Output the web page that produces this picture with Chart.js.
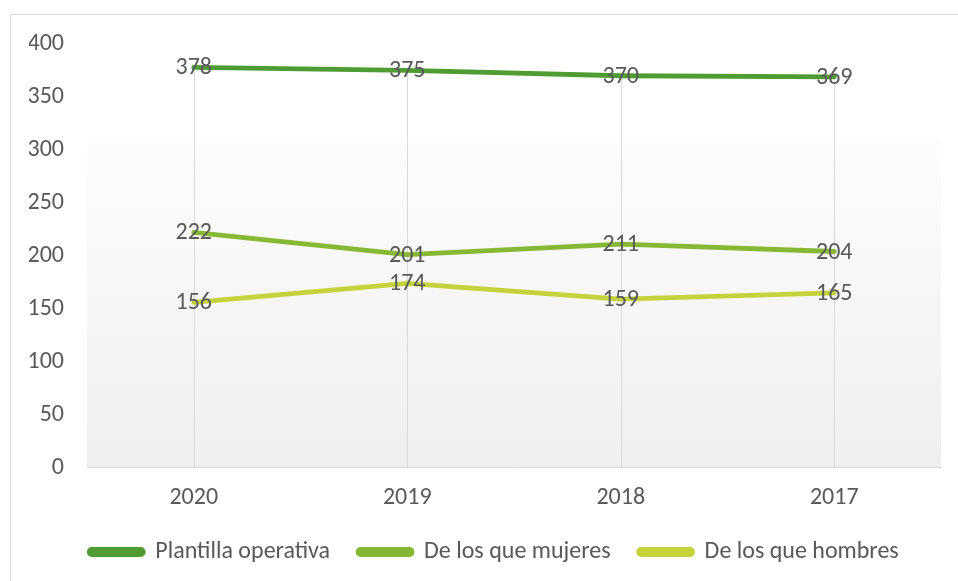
<!DOCTYPE html>
<html>
<head>
<meta charset="utf-8">
<script src="https://cdn.jsdelivr.net/npm/chart.js@4/dist/chart.umd.min.js"></script>
<style>
  html, body { margin: 0; padding: 0; background: #ffffff; }
  #wrap { width: 958px; height: 581px; position: relative; }
</style>
</head>
<body>
<div id="wrap"><canvas id="c" width="958" height="581"></canvas></div>
<script>
const categories = ['2020', '2019', '2018', '2017'];
const plantillaOperativa = [378, 375, 370, 369];
const mujeres = [222, 201, 211, 204];
const hombres = [156, 174, 159, 165];
const seriesNames = ['Plantilla operativa', 'De los que mujeres', 'De los que hombres'];
const yTicks = [0, 50, 100, 150, 200, 250, 300, 350, 400];

const colors = ['#4f9c33', '#86b833', '#c4d23b'];
const textColor = '#595959';
const fontFamily = "Carlito, 'Open Sans', sans-serif";
const fontSize = 24;

const frame = {
  id: 'frame',
  afterLayout(chart) {
    const lg = chart.legend;
    if (lg) {
      const shift = 494 - (lg.left + lg.right) / 2;
      lg.left += shift;
      lg.right += shift;
    }
  },
  beforeDraw(chart) {
    const ctx = chart.ctx;
    const a = chart.chartArea;
    ctx.save();
    ctx.fillStyle = '#ffffff';
    ctx.fillRect(0, 0, chart.width, chart.height);
    ctx.strokeStyle = '#d9d9d9';
    ctx.lineWidth = 1;
    ctx.strokeRect(10.5, 14.5, chart.width + 20, chart.height + 20);
    const gTop = a.top + (a.bottom - a.top) * 0.229;
    const g = ctx.createLinearGradient(0, gTop, 0, a.bottom);
    g.addColorStop(0, '#fdfdfd');
    g.addColorStop(1, '#efefef');
    ctx.fillStyle = g;
    ctx.fillRect(a.left, gTop, a.right - a.left, a.bottom - gTop);
    ctx.restore();
  },
  beforeDatasetsDraw(chart) {
    const ctx = chart.ctx;
    const a = chart.chartArea;
    const metas = chart.data.datasets.map((d, i) => chart.getDatasetMeta(i));
    ctx.save();
    ctx.strokeStyle = '#d9d9d9';
    ctx.lineWidth = 1;
    categories.forEach((c, i) => {
      let top = a.bottom;
      let x = 0;
      metas.forEach(m => { const p = m.data[i]; if (p) { top = Math.min(top, p.y); x = p.x; } });
      ctx.beginPath();
      ctx.moveTo(Math.round(x) + 0.5, top);
      ctx.lineTo(Math.round(x) + 0.5, a.bottom);
      ctx.stroke();
    });
    ctx.restore();
  },
  afterDatasetsDraw(chart) {
    const ctx = chart.ctx;
    ctx.save();
    ctx.font = fontSize + 'px ' + fontFamily;
    ctx.fillStyle = textColor;
    ctx.textAlign = 'center';
    ctx.textBaseline = 'middle';
    chart.data.datasets.forEach((ds, i) => {
      const meta = chart.getDatasetMeta(i);
      meta.data.forEach((p, j) => {
        ctx.fillText(String(ds.data[j]), p.x, p.y + 1);
      });
    });
    ctx.restore();
  }
};

const seriesData = [plantillaOperativa, mujeres, hombres];

new Chart(document.getElementById('c'), {
  type: 'line',
  data: {
    labels: categories,
    datasets: seriesData.map((d, i) => ({
      label: seriesNames[i],
      data: d,
      borderColor: colors[i],
      backgroundColor: colors[i],
      borderWidth: 4.8,
      pointRadius: 0,
      pointHoverRadius: 0,
      tension: 0,
      fill: false,
      borderCapStyle: 'round',
      borderJoinStyle: 'round'
    }))
  },
  options: {
    responsive: false,
    animation: false,
    events: [],
    layout: { padding: { left: 29, right: 17, top: 44, bottom: 7 } },
    plugins: {
      tooltip: { enabled: false },
      legend: {
        position: 'bottom',
        labels: {
          color: textColor,
          font: { family: fontFamily, size: fontSize },
          boxWidth: 54,
          boxHeight: 5,
          useBorderRadius: true,
          borderRadius: 2.5,
          padding: 28
        }
      }
    },
    scales: {
      x: {
        offset: true,
        grid: { display: false, drawTicks: false },
        border: { display: true, color: '#d9d9d9', width: 1 },
        ticks: { color: textColor, font: { family: fontFamily, size: fontSize }, padding: 16, maxRotation: 0 },
        afterFit(scale) { scale.height = 44.5; }
      },
      y: {
        min: 0,
        max: 400,
        afterBuildTicks(scale) { scale.ticks = yTicks.map(v => ({ value: v })); },
        grid: { display: false, drawTicks: false },
        border: { display: false },
        ticks: { color: textColor, font: { family: fontFamily, size: fontSize }, padding: 23 },
        afterFit(scale) { scale.width = 58; }
      }
    }
  },
  plugins: [frame]
});
</script>
</body>
</html>
